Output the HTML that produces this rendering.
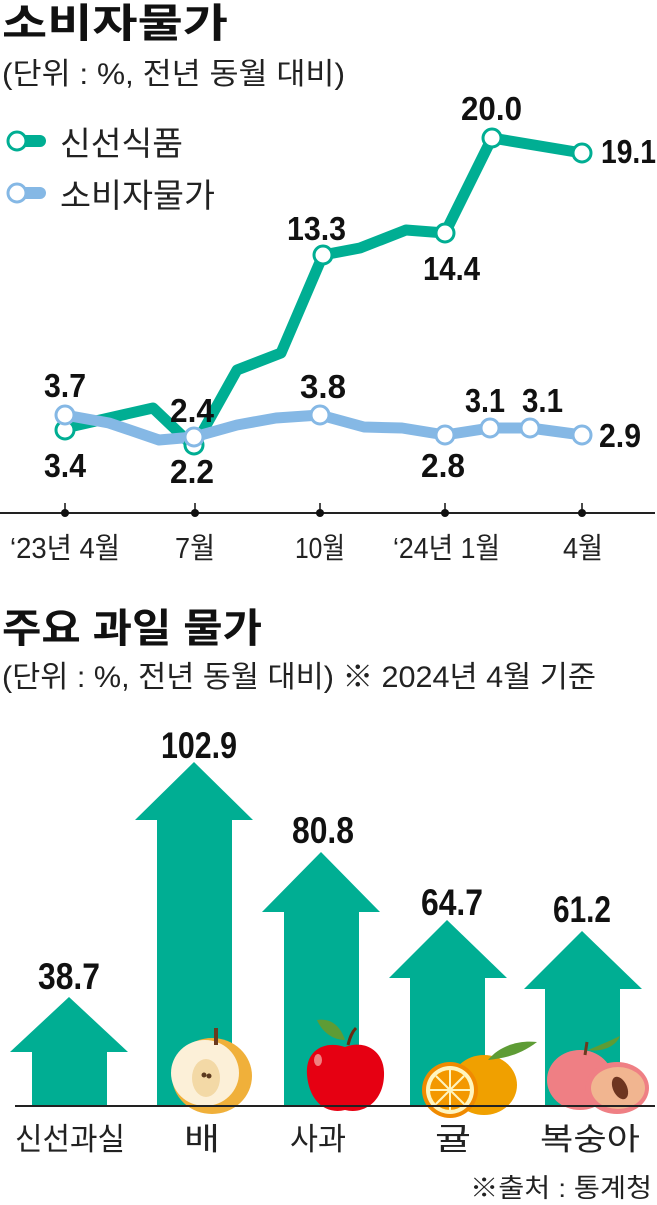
<!DOCTYPE html>
<html><head><meta charset="utf-8"><style>
body{margin:0;background:#fff;}
svg{display:block;font-family:"Liberation Sans","Noto Sans CJK KR",sans-serif;}
.t{font-family:"Liberation Sans","Noto Sans CJK KR",sans-serif;}
.b{font-weight:bold;font-size:33px;fill:#111;font-family:"Liberation Sans",sans-serif;}
.c{font-weight:bold;font-size:37px;fill:#111;font-family:"Liberation Sans",sans-serif;}
</style></head><body>
<svg width="657" height="1205" viewBox="0 0 657 1205">
<text x="2" y="37" font-size="40" font-weight="bold" fill="#111" class="t" textLength="226" lengthAdjust="spacingAndGlyphs">소비자물가</text>
<text x="2" y="84" font-size="30" fill="#222" class="t" textLength="343" lengthAdjust="spacingAndGlyphs">(단위 : %, 전년 동월 대비)</text>
<!-- legend -->
<line x1="16" y1="141" x2="40" y2="141" stroke="#00ae93" stroke-width="12" stroke-linecap="round"/>
<circle cx="17" cy="141" r="9" fill="#fff" stroke="#00ae93" stroke-width="3"/>
<text x="60" y="155" font-size="33" fill="#222" class="t" textLength="123" lengthAdjust="spacingAndGlyphs">신선식품</text>
<line x1="16" y1="193" x2="40" y2="193" stroke="#85b8e5" stroke-width="12" stroke-linecap="round"/>
<circle cx="17" cy="193" r="9" fill="#fff" stroke="#85b8e5" stroke-width="3"/>
<text x="60" y="207" font-size="33" fill="#222" class="t" textLength="155" lengthAdjust="spacingAndGlyphs">소비자물가</text>
<!-- axis -->
<line x1="0" y1="513" x2="655" y2="513" stroke="#222" stroke-width="2"/>
<g fill="#111"><circle cx="65" cy="513" r="4"/><circle cx="195" cy="513" r="4"/><circle cx="320" cy="513" r="4"/><circle cx="445" cy="513" r="4"/><circle cx="582" cy="513" r="4"/></g>
<g stroke="#111" stroke-width="1.5"><line x1="65" y1="503" x2="65" y2="513"/><line x1="195" y1="503" x2="195" y2="513"/><line x1="320" y1="503" x2="320" y2="513"/><line x1="445" y1="503" x2="445" y2="513"/><line x1="582" y1="503" x2="582" y2="513"/></g>
<g font-size="29" fill="#222" class="t" lengthAdjust="spacingAndGlyphs">
<text x="10" y="558" textLength="110" lengthAdjust="spacingAndGlyphs">‘23년 4월</text>
<text x="175" y="558" textLength="40" lengthAdjust="spacingAndGlyphs">7월</text>
<text x="295" y="558" textLength="50" lengthAdjust="spacingAndGlyphs">10월</text>
<text x="393" y="558" textLength="107" lengthAdjust="spacingAndGlyphs">‘24년 1월</text>
<text x="563" y="558" textLength="40" lengthAdjust="spacingAndGlyphs">4월</text></g>
<!-- green line -->
<polyline points="65,428 153,408 194,447 237,370 281,353 323,255 360,248 406,230 445,233 492,138 582,153" fill="none" stroke="#00ae93" stroke-width="11" stroke-linejoin="round"/>
<!-- blue line -->
<polyline points="65,415 109,423 159,440 194,437 237,425 276,418 320,415 364,427 402,428 445,435 490,428 530,428 582,435" fill="none" stroke="#85b8e5" stroke-width="11" stroke-linejoin="round"/>
<g fill="#fff" stroke="#00ae93" stroke-width="3">
<circle cx="65" cy="430" r="9"/><circle cx="194" cy="445" r="9"/><circle cx="323" cy="255" r="9"/><circle cx="445" cy="233" r="9"/><circle cx="492" cy="138" r="9"/><circle cx="582" cy="153" r="9"/></g>
<g fill="#fff" stroke="#85b8e5" stroke-width="3">
<circle cx="65" cy="415" r="9"/><circle cx="194" cy="437" r="9"/><circle cx="320" cy="415" r="9"/><circle cx="445" cy="435" r="9"/><circle cx="490" cy="428" r="9"/><circle cx="530" cy="428" r="9"/><circle cx="582" cy="435" r="9"/></g>
<g class="b">
<text x="44" y="397" textLength="42" lengthAdjust="spacingAndGlyphs">3.7</text>
<text x="44" y="477" textLength="42" lengthAdjust="spacingAndGlyphs">3.4</text>
<text x="170" y="422" textLength="44" lengthAdjust="spacingAndGlyphs">2.4</text>
<text x="170" y="483" textLength="44" lengthAdjust="spacingAndGlyphs">2.2</text>
<text x="287" y="240" textLength="59" lengthAdjust="spacingAndGlyphs">13.3</text>
<text x="300" y="398" textLength="46" lengthAdjust="spacingAndGlyphs">3.8</text>
<text x="423" y="280" textLength="57" lengthAdjust="spacingAndGlyphs">14.4</text>
<text x="421" y="477" textLength="44" lengthAdjust="spacingAndGlyphs">2.8</text>
<text x="461" y="120" textLength="61" lengthAdjust="spacingAndGlyphs">20.0</text>
<text x="601" y="163" textLength="55" lengthAdjust="spacingAndGlyphs">19.1</text>
<text x="465" y="412" textLength="40" lengthAdjust="spacingAndGlyphs">3.1</text>
<text x="522" y="412" textLength="41" lengthAdjust="spacingAndGlyphs">3.1</text>
<text x="599" y="447" textLength="42" lengthAdjust="spacingAndGlyphs">2.9</text></g>
<!-- bar chart -->
<text x="2" y="642" font-size="40" font-weight="bold" fill="#111" class="t" textLength="260" lengthAdjust="spacingAndGlyphs">주요 과일 물가</text>
<text x="2" y="687" font-size="30" fill="#222" class="t" textLength="594" lengthAdjust="spacingAndGlyphs">(단위 : %, 전년 동월 대비) ※ 2024년 4월 기준</text>
<g fill="#00ae93">
<polygon points="32,1106 32,1052 10,1052 69,997 128,1052 107,1052 107,1106"/>
<polygon points="157,1106 157,820 135,820 194,762 253,820 232,820 232,1106"/>
<polygon points="284,1106 284,912 262,912 321,852 380,912 359,912 359,1106"/>
<polygon points="410,1106 410,978 389,978 447,920 507,978 485,978 485,1106"/>
<polygon points="545,1106 545,989 524,989 582,931 642,989 620,989 620,1106"/>
</g>
<g class="c">
<text x="38" y="989" textLength="62" lengthAdjust="spacingAndGlyphs">38.7</text>
<text x="161" y="758" textLength="76" lengthAdjust="spacingAndGlyphs">102.9</text>
<text x="292" y="843" textLength="62" lengthAdjust="spacingAndGlyphs">80.8</text>
<text x="421" y="915" textLength="62" lengthAdjust="spacingAndGlyphs">64.7</text>
<text x="553" y="922" textLength="58" lengthAdjust="spacingAndGlyphs">61.2</text></g>
<!-- pear -->
<ellipse cx="212" cy="1076" rx="40" ry="38" fill="#f0b03a"/>
<ellipse cx="205" cy="1073" rx="34" ry="33" fill="#fcf0d8"/>
<ellipse cx="206" cy="1078" rx="14" ry="19" fill="#f3d9a6"/>
<line x1="216" y1="1028" x2="216" y2="1045" stroke="#6b3a1f" stroke-width="4"/>
<circle cx="204" cy="1075" r="2.5" fill="#5b3a1f"/><circle cx="209" cy="1076" r="2.5" fill="#5b3a1f"/>
<!-- apple -->
<path d="M345,1047 C325,1040 305,1050 307,1075 C309,1100 325,1115 345,1110 C365,1115 385,1100 384,1072 C383,1048 362,1040 345,1047Z" fill="#e60012"/>
<path d="M317,1020 C330,1018 340,1025 345,1040 C333,1040 322,1032 317,1020Z" fill="#5e9c35"/>
<path d="M348,1045 C350,1037 352,1032 356,1028" stroke="#6b2a10" stroke-width="3" fill="none"/>
<ellipse cx="318" cy="1060" rx="4" ry="6" fill="#f08080"/>
<!-- orange -->
<ellipse cx="484" cy="1085" rx="33" ry="30" fill="#f0a000"/>
<path d="M488,1060 C500,1045 520,1040 537,1042 C520,1055 505,1058 488,1060Z" fill="#5e9c35"/>
<circle cx="450" cy="1090" r="28" fill="#f08a00"/>
<circle cx="450" cy="1090" r="24" fill="#fff5c0"/>
<circle cx="450" cy="1090" r="20" fill="#f39800"/>
<g stroke="#fff5c0" stroke-width="2"><line x1="450" y1="1070" x2="450" y2="1110"/><line x1="430" y1="1090" x2="470" y2="1090"/><line x1="436" y1="1076" x2="464" y2="1104"/><line x1="464" y1="1076" x2="436" y2="1104"/></g>
<!-- peach -->
<ellipse cx="580" cy="1080" rx="33" ry="30" fill="#ef7f84"/>
<path d="M588,1050 C600,1045 612,1040 620,1036 C615,1048 600,1052 588,1050Z" fill="#5e9c35"/>
<line x1="587" y1="1042" x2="585" y2="1055" stroke="#6b3a1f" stroke-width="3"/>
<ellipse cx="617" cy="1088" rx="32" ry="26" fill="#ef7f84"/>
<ellipse cx="618" cy="1088" rx="27" ry="21" fill="#f1b590"/>
<ellipse cx="620" cy="1088" rx="7" ry="12" transform="rotate(-25 620 1088)" fill="#6e3520"/>
<line x1="15" y1="1106" x2="655" y2="1106" stroke="#222" stroke-width="2"/>
<g font-size="31" fill="#222" class="t">
<text x="15" y="1150" textLength="110" lengthAdjust="spacingAndGlyphs">신선과실</text>
<text x="184" y="1150" textLength="36" lengthAdjust="spacingAndGlyphs">배</text>
<text x="290" y="1150" textLength="56" lengthAdjust="spacingAndGlyphs">사과</text>
<text x="435" y="1150" textLength="36" lengthAdjust="spacingAndGlyphs">귤</text>
<text x="540" y="1150" textLength="100" lengthAdjust="spacingAndGlyphs">복숭아</text></g>
<text x="470" y="1197" font-size="26" fill="#222" class="t" textLength="182" lengthAdjust="spacingAndGlyphs">※출처 : 통계청</text>
</svg>
</body></html>
